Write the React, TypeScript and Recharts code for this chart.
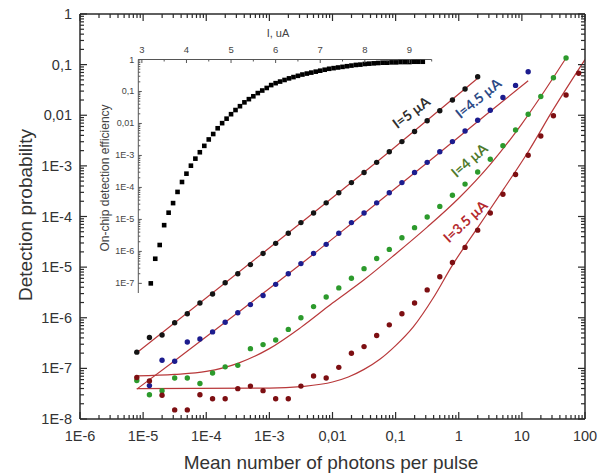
import React from "react";
import { ComposedChart, ScatterChart, Scatter, Line, XAxis, YAxis } from "recharts";

// log10 of mean photon number (2 dB attenuation steps)
const muLog = [-5.1, -4.9, -4.7, -4.5, -4.3, -4.1, -3.9, -3.7, -3.5, -3.3, -3.1, -2.9, -2.7, -2.5, -2.3, -2.1, -1.9, -1.7,
  -1.5, -1.3, -1.1, -0.9, -0.7, -0.5, -0.3, -0.1, 0.1, 0.3, 0.5, 0.7, 0.9, 1.1, 1.3, 1.5, 1.7, 1.9];

// log10 of detection probability per bias current
const pI5 = [-6.68, -6.39, -6.34, -6.1, -5.92, -5.71, -5.53, -5.31, -5.13, -4.95, -4.73, -4.53, -4.33, -4.12, -3.93, -3.73,
  -3.53, -3.33, -3.13, -2.93, -2.72, -2.52, -2.32, -2.11, -1.91, -1.7, -1.48, -1.24];
// I=4.5 starts at the second grid point
const pI45 = [-7.34, -6.84, -6.86, -6.48, -6.42, -6.28, -6.09, -5.9, -5.74, -5.56, -5.34, -5.13, -4.93, -4.73, -4.55, -4.33,
  -4.12, -3.93, -3.73, -3.53, -3.33, -3.13, -2.93, -2.72, -2.52, -2.31, -2.1, -1.9, -1.65, -1.41, -1.14];
const pI4 = [-7.24, -7.52, -7.44, -7.19, -7.19, -7.3, -7.09, -6.97, -6.94, -6.61, -6.53, -6.44, -6.23, -6.0, -5.78, -5.59,
  -5.41, -5.22, -5.03, -4.83, -4.65, -4.42, -4.22, -4.01, -3.8, -3.58, -3.36, -3.12, -2.87, -2.6, -2.29, -1.98, -1.63, -1.26, -0.87];
const pI35 = [-7.18, -7.25, -7.53, -7.82, -7.82, -7.52, -7.6, -7.6, -7.4, -7.35, -7.44, -7.6, -7.6, -7.35, -7.15, -7.19,
  -6.98, -6.7, -6.57, -6.35, -6.14, -5.92, -5.71, -5.45, -5.19, -4.91, -4.61, -4.27, -3.93, -3.56, -3.17, -2.79, -2.41, -2.01, -1.6, -1.17];

// fitted curves, [log10 mu, log10 P]
const fitI5 = [[-5.1, -6.69], [-3.1, -4.72], [-1.1, -2.72], [0.3, -1.27]];
const fitI45 = [[-5.1, -7.41], [-4.5, -6.85], [-3.5, -5.9], [-2.5, -4.94], [-1.5, -3.94], [-0.5, -2.94], [0.5, -1.92], [1.1, -1.32]];
const fitI4 = [[-5.1, -7.15], [-4.5, -7.12], [-4.0, -7.06], [-3.5, -6.9], [-3.0, -6.61], [-2.5, -6.19], [-2.0, -5.71],
  [-1.5, -5.25], [-1.0, -4.74], [-0.5, -4.21], [0.0, -3.64], [0.5, -2.97], [1.0, -2.17], [1.3, -1.63], [1.7, -0.87]];
const fitI35 = [[-5.1, -7.4], [-3.0, -7.39], [-2.5, -7.36], [-2.0, -7.27], [-1.75, -7.17], [-1.5, -7.02], [-1.25, -6.82],
  [-1.0, -6.55], [-0.72, -6.18], [-0.4, -5.6], [-0.1, -4.96], [0.3, -4.22], [0.7, -3.48], [1.1, -2.72], [1.5, -1.88], [2.0, -0.9]];

// inset: bias current (uA) and log10 on-chip detection efficiency
const currentUA = [3.2, 3.3, 3.4, 3.5, 3.6, 3.7, 3.8, 3.9, 4.0, 4.1, 4.2, 4.3, 4.4, 4.5, 4.6, 4.7, 4.8, 4.9, 5.0, 5.1, 5.2,
  5.3, 5.4, 5.5, 5.6, 5.7, 5.8, 5.9, 6.0, 6.1, 6.2, 6.3, 6.4, 6.5, 6.6, 6.7, 6.8, 6.9, 7.0, 7.1, 7.2, 7.3, 7.4, 7.5, 7.6,
  7.7, 7.8, 7.9, 8.0, 8.1, 8.2, 8.3, 8.4, 8.5, 8.6, 8.7, 8.8, 8.9, 9.0, 9.1, 9.2, 9.3];
const effLog = [-7.0, -6.23, -5.8, -5.18, -4.79, -4.49, -4.14, -3.83, -3.57, -3.32, -3.1, -2.9, -2.7, -2.5, -2.33, -2.15,
  -1.99, -1.85, -1.71, -1.58, -1.46, -1.34, -1.24, -1.15, -1.05, -0.97, -0.89, -0.8, -0.74, -0.69, -0.64, -0.59, -0.55,
  -0.51, -0.47, -0.44, -0.41, -0.38, -0.35, -0.32, -0.29, -0.27, -0.25, -0.23, -0.21, -0.19, -0.17, -0.16, -0.14, -0.13,
  -0.12, -0.11, -0.1, -0.1, -0.09, -0.09, -0.08, -0.08, -0.08, -0.07, -0.07, -0.07];

const xMajor = [1e-6, 1e-5, 1e-4, 1e-3, 0.01, 0.1, 1, 10, 100];
const xLabels = ["1E-6", "1E-5", "1E-4", "1E-3", "0,01", "0,1", "1", "10", "100"];
const yMajor = [1e-8, 1e-7, 1e-6, 1e-5, 1e-4, 1e-3, 0.01, 0.1, 1];
const yLabels = ["1E-8", "1E-7", "1E-6", "1E-5", "1E-4", "1E-3", "0,01", "0,1", "1"];
const insetXMajor = [3, 4, 5, 6, 7, 8, 9];
const insetXMinor = [3.5, 4.5, 5.5, 6.5, 7.5, 8.5, 9.5];
const insetYMajor = [1e-7, 1e-6, 1e-5, 1e-4, 1e-3, 0.01, 0.1, 1];
const insetYLabels = ["1E-7", "1E-6", "1E-5", "1E-4", "1E-3", "0,01", "0,1", "1"];

const AXIS = "#2a2a2a";
const FIT = "#b8383a";
const FONT = "'Liberation Sans', Arial, sans-serif";

const withMinors = (majors: number[]) => {
  const out: number[] = [];
  majors.forEach((m, i) => {
    out.push(m);
    if (i < majors.length - 1) for (let k = 2; k <= 9; k++) out.push(k * m);
  });
  return out;
};
const majorIndex = (v: number, majors: number[]) => majors.findIndex((m) => Math.abs(v - m) <= m * 1e-6);

const toPts = (xs: number[], ys: number[], start = 0) => ys.map((y, i) => ({ x: 10 ** xs[i + start], y: 10 ** y }));
const toFit = (f: number[][]) => f.map(([x, y]) => ({ x: 10 ** x, y: 10 ** y }));

const BottomTick = (p: any) => {
  const i = majorIndex(p.payload.value, xMajor);
  return (
    <g>
      <line x1={p.x} x2={p.x} y1={p.y} y2={p.y - (i >= 0 ? 7 : 4)} stroke={AXIS} strokeWidth={1.2} />
      {i >= 0 && (
        <text x={p.x} y={p.y + 22} textAnchor="middle" fontSize={14.5} fill="#333" fontFamily={FONT}>
          {xLabels[i]}
        </text>
      )}
    </g>
  );
};
const TopTick = (p: any) => {
  const i = majorIndex(p.payload.value, xMajor);
  return <line x1={p.x} x2={p.x} y1={p.y} y2={p.y + (i >= 0 ? 7 : 4)} stroke={AXIS} strokeWidth={1.2} />;
};
const LeftTick = (p: any) => {
  const i = majorIndex(p.payload.value, yMajor);
  return (
    <g>
      <line x1={p.x} x2={p.x + (i >= 0 ? 7 : 4)} y1={p.y} y2={p.y} stroke={AXIS} strokeWidth={1.2} />
      {i >= 0 && (
        <text x={p.x - 8} y={p.y + 5} textAnchor="end" fontSize={14.5} fill="#333" fontFamily={FONT}>
          {yLabels[i]}
        </text>
      )}
    </g>
  );
};
const RightTick = (p: any) => {
  const i = majorIndex(p.payload.value, yMajor);
  return <line x1={p.x} x2={p.x - (i >= 0 ? 7 : 4)} y1={p.y} y2={p.y} stroke={AXIS} strokeWidth={1.2} />;
};
const InsetTopTick = (p: any) => {
  const i = insetXMajor.indexOf(p.payload.value);
  return (
    <g>
      <line x1={p.x} x2={p.x} y1={p.y} y2={p.y + (i >= 0 ? 3.5 : 2)} stroke="#555" />
      {i >= 0 && (
        <text x={p.x} y={p.y - 7} textAnchor="middle" fontSize={9.5} fill="#444" fontFamily={FONT}>
          {insetXMajor[i]}
        </text>
      )}
    </g>
  );
};
const InsetLeftTick = (p: any) => {
  const i = majorIndex(p.payload.value, insetYMajor);
  return (
    <g>
      <line x1={p.x} x2={p.x + (i >= 0 ? 3.5 : 2)} y1={p.y} y2={p.y} stroke="#555" />
      {i >= 0 && (
        <text x={p.x - 4} y={p.y + 3} textAnchor="end" fontSize={9} fill="#444" fontFamily={FONT}>
          {insetYLabels[i]}
        </text>
      )}
    </g>
  );
};

const dot = (color: string) => (p: any) => <circle cx={p.cx} cy={p.cy} r={2.7} fill={color} />;
const square = (p: any) => <rect x={p.cx - 2.3} y={p.cy - 2.3} width={4.6} height={4.6} fill="#000" />;
const nothing = () => <g />;

const series = [
  { name: "I=5", pts: toPts(muLog, pI5), color: "#141414", fit: fitI5 },
  { name: "I=4.5", pts: toPts(muLog, pI45, 1), color: "#1c1c8e", fit: fitI45 },
  { name: "I=4", pts: toPts(muLog, pI4), color: "#2c9a2c", fit: fitI4 },
  { name: "I=3.5", pts: toPts(muLog, pI35), color: "#7d0f12", fit: fitI35 },
];

const curveLabels = [
  { text: "I=5 µA", x: 411, y: 112, angle: -37, color: "#2e2e2e" },
  { text: "I=4.5 µA", x: 478, y: 98, angle: -39, color: "#2c4a86" },
  { text: "I=4 µA", x: 469, y: 160, angle: -41, color: "#4f7a2c" },
  { text: "I=3.5 µA", x: 465, y: 221, angle: -43, color: "#b52a2e" },
];

export default function App() {
  const xTicks = withMinors(xMajor);
  const yTicks = withMinors(yMajor);
  const insetYTicks = withMinors(insetYMajor);
  const insetData = currentUA.map((c, i) => ({ x: c, y: 10 ** effLog[i] }));

  return (
    <div style={{ position: "absolute", left: 0, top: 0, width: 608, height: 475, background: "#fff" }}>
      <div style={{ position: "absolute", left: 0, top: 0 }}>
        <ComposedChart width={608} height={475} margin={{ top: 13, right: 22, bottom: 16, left: 8 }}>
          <XAxis xAxisId="b" dataKey="x" type="number" scale="log" domain={[1e-6, 100]} allowDataOverflow
            ticks={xTicks} interval={0} tick={BottomTick} tickLine={false} tickSize={0} tickMargin={0} height={40}
            axisLine={{ stroke: AXIS, strokeWidth: 1.5 }} />
          <XAxis xAxisId="t" orientation="top" dataKey="x" type="number" scale="log" domain={[1e-6, 100]} allowDataOverflow
            ticks={xTicks} interval={0} tick={TopTick} tickLine={false} tickSize={0} tickMargin={0} height={1}
            axisLine={{ stroke: AXIS, strokeWidth: 1.5 }} />
          <YAxis yAxisId="l" dataKey="y" type="number" scale="log" domain={[1e-8, 1]} allowDataOverflow
            ticks={yTicks} interval={0} tick={LeftTick} tickLine={false} tickSize={0} tickMargin={0} width={72}
            axisLine={{ stroke: AXIS, strokeWidth: 1.5 }} />
          <YAxis yAxisId="r" orientation="right" dataKey="y" type="number" scale="log" domain={[1e-8, 1]} allowDataOverflow
            ticks={yTicks} interval={0} tick={RightTick} tickLine={false} tickSize={0} tickMargin={0} width={1}
            axisLine={{ stroke: AXIS, strokeWidth: 1.5 }} />
          {/* invisible series so the mirrored frame axes are rendered */}
          <Scatter data={series[0].pts} xAxisId="t" yAxisId="r" shape={nothing} isAnimationActive={false} />
          {series.map((s) => (
            <Scatter key={s.name} data={s.pts} xAxisId="b" yAxisId="l" shape={dot(s.color)} isAnimationActive={false} />
          ))}
          {series.map((s) => (
            <Line key={s.name + "fit"} data={toFit(s.fit)} dataKey="y" xAxisId="b" yAxisId="l" type="monotone"
              stroke={FIT} strokeWidth={1.2} dot={false} activeDot={false} isAnimationActive={false} />
          ))}
        </ComposedChart>
      </div>
      <div style={{ position: "absolute", left: 0, top: 0 }}>
        <ScatterChart width={608} height={475} margin={{ top: 39.5, right: 176.3, bottom: 182, left: 98.3 }}>
          <XAxis dataKey="x" orientation="top" type="number" domain={[2.92, 9.5]} allowDataOverflow
            ticks={[...insetXMajor, ...insetXMinor]} interval={0} tick={InsetTopTick} tickLine={false} tickSize={0}
            tickMargin={0} height={20} axisLine={{ stroke: "#555", strokeWidth: 1 }} />
          <YAxis dataKey="y" type="number" scale="log" domain={[5e-8, 1]} allowDataOverflow ticks={insetYTicks}
            interval={0} tick={InsetLeftTick} tickLine={false} tickSize={0} tickMargin={0} width={40}
            axisLine={{ stroke: "#555", strokeWidth: 1 }} />
          <Scatter data={insetData} shape={square} isAnimationActive={false} />
        </ScatterChart>
      </div>
      <svg width={608} height={475} style={{ position: "absolute", left: 0, top: 0, pointerEvents: "none" }}>
        <text x={25} y={215} transform="rotate(-90 25 215)" textAnchor="middle" dominantBaseline="central"
          fontSize={19} fill="#333" fontFamily={FONT}>Detection probability</text>
        <text x={331} y={462} textAnchor="middle" dominantBaseline="central" fontSize={19} fill="#333"
          fontFamily={FONT}>Mean number of photons per pulse</text>
        <text x={278} y={33} textAnchor="middle" dominantBaseline="central" fontSize={11} fill="#444"
          fontFamily={FONT}>I, uA</text>
        <text x={105} y={178} transform="rotate(-90 105 178)" textAnchor="middle" dominantBaseline="central"
          fontSize={12} fill="#444" fontFamily={FONT}>On-chip detection efficiency</text>
        {curveLabels.map((l) => (
          <text key={l.text} x={l.x} y={l.y} transform={`rotate(${l.angle} ${l.x} ${l.y})`} textAnchor="middle"
            dominantBaseline="central" fontSize={14} fontWeight={700} fill={l.color} fontFamily="Lato, 'Open Sans', sans-serif">
            {l.text}
          </text>
        ))}
      </svg>
    </div>
  );
}
